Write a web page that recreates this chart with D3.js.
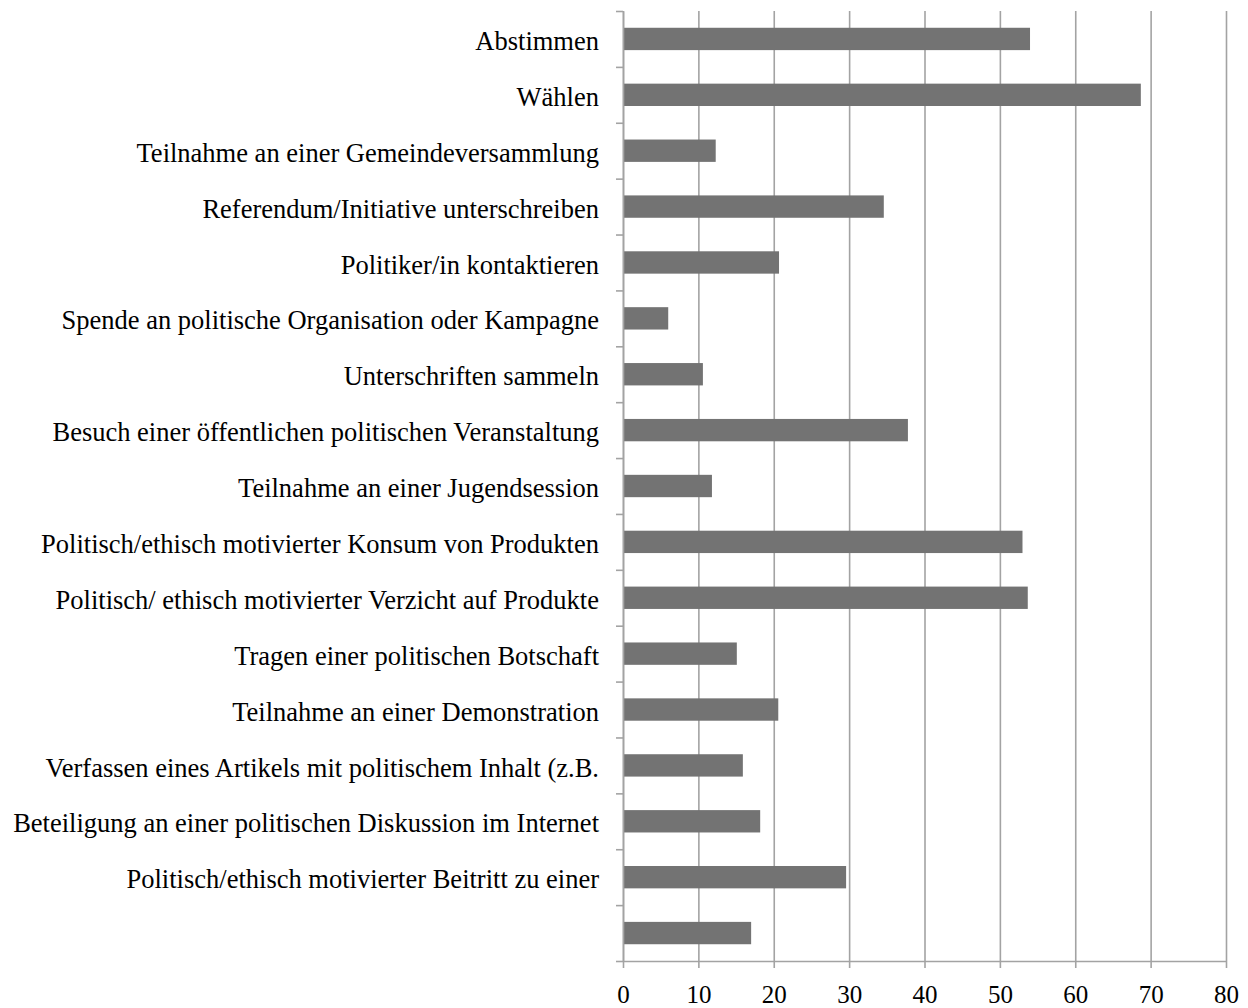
<!DOCTYPE html>
<html>
<head>
<meta charset="utf-8">
<script src="https://cdn.jsdelivr.net/npm/d3@7"></script>
<style>
  body { margin: 0; background: #fff; }
  svg text { font-family: "Liberation Serif", "Times New Roman", serif; fill: #000; }
</style>
</head>
<body>
<script>
// categories, top to bottom (last one has no label in the source)
const categories = [
  "Abstimmen",
  "Wählen",
  "Teilnahme an einer Gemeindeversammlung",
  "Referendum/Initiative unterschreiben",
  "Politiker/in kontaktieren",
  "Spende an politische Organisation oder Kampagne",
  "Unterschriften sammeln",
  "Besuch einer öffentlichen politischen Veranstaltung",
  "Teilnahme an einer Jugendsession",
  "Politisch/ethisch motivierter Konsum von Produkten",
  "Politisch/ ethisch motivierter Verzicht auf Produkte",
  "Tragen einer politischen Botschaft",
  "Teilnahme an einer Demonstration",
  "Verfassen eines Artikels mit politischem Inhalt (z.B.",
  "Beteiligung an einer politischen Diskussion im Internet",
  "Politisch/ethisch motivierter Beitritt zu einer",
  ""
]
const values = [54.0, 68.7, 12.3, 34.6, 20.7, 6.0, 10.6, 37.8, 11.8, 53.0, 53.7, 15.1, 20.6, 15.9, 18.2, 29.6, 17.0]
const xTicks = [0, 10, 20, 30, 40, 50, 60, 70, 80]

const w = 1248, h = 1008
const plotLeft = 623, plotRight = 1226, plotTop = 11, plotBottom = 961
const gridColor = "#a3a3a3"

const svg = d3.select("body").append("svg")
  .attr("width", w)
  .attr("height", h)

const idx = categories.map((c, i) => i)

// scales
const x = d3.scaleLinear().domain([0, 80]).range([plotLeft, plotRight])
const y = d3.scaleBand().domain(idx).range([plotTop, plotBottom]).paddingInner(0.6).paddingOuter(0.3)
const yEdge = d3.scaleLinear().domain([0, categories.length]).range([plotTop, plotBottom])

// vertical gridlines
const grid = svg.append("g")
  .attr("transform", "translate(0," + plotBottom + ")")
  .call(d3.axisBottom(x).tickValues(xTicks).tickSize(-(plotBottom - plotTop)).tickFormat(""))
grid.select(".domain").remove()
grid.selectAll("line").attr("stroke", gridColor).attr("stroke-width", 1.6)

// bars
svg.selectAll("rect.bar")
  .data(values)
  .enter()
  .append("rect")
  .attr("class", "bar")
  .attr("x", x(0))
  .attr("y", (d, i) => y(i))
  .attr("width", d => x(d) - x(0))
  .attr("height", y.bandwidth())
  .attr("fill", "#737373")

// x axis
const xAxis = svg.append("g")
  .attr("transform", "translate(0," + plotBottom + ")")
  .call(d3.axisBottom(x).tickValues(xTicks).tickSize(7).tickPadding(17).tickSizeOuter(0))
xAxis.selectAll("line").attr("stroke", gridColor).attr("stroke-width", 1.6)
xAxis.select(".domain").attr("stroke", gridColor).attr("stroke-width", 1.6)
xAxis.selectAll("text").attr("font-size", 25).attr("font-family", "Liberation Serif")

// y axis ticks at band edges
const yTickAxis = svg.append("g")
  .attr("transform", "translate(" + plotLeft + ",0)")
  .call(d3.axisLeft(yEdge).ticks(categories.length).tickSize(7).tickFormat("").tickSizeOuter(0))
yTickAxis.selectAll("line").attr("stroke", gridColor).attr("stroke-width", 1.6)
yTickAxis.select(".domain").attr("stroke", gridColor).attr("stroke-width", 1.6)

// category labels
const yLab = svg.append("g")
  .attr("transform", "translate(" + plotLeft + ",0)")
  .call(d3.axisLeft(y).tickSize(0).tickPadding(24).tickFormat(i => categories[i]))
yLab.select(".domain").remove()
yLab.selectAll("text")
  .attr("font-size", 26.5)
  .attr("font-family", "Liberation Serif")
  .attr("dy", "0.42em")
</script>
</body>
</html>
